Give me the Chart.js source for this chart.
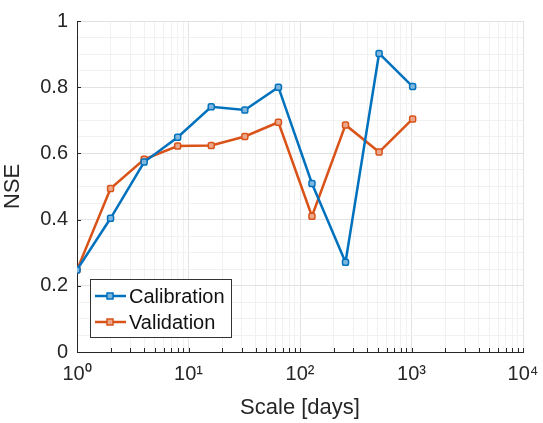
<!DOCTYPE html>
<html>
<head>
<meta charset="utf-8">
<script src="https://cdn.jsdelivr.net/npm/chart.js@4/dist/chart.umd.min.js"></script>
<style>
body { margin: 0; background: #fff; }
#wrap { width: 543px; height: 423px; }
</style>
</head>
<body>
<div id="wrap"><canvas id="nse"></canvas></div>
<script>
// scale in days (x) and NSE values
const scaleDays = [1, 2, 4, 8, 16, 32, 64, 128, 256, 512, 1024]
const calibration = [0.248, 0.404, 0.574, 0.649, 0.741, 0.731, 0.800, 0.509, 0.271, 0.902, 0.802]
const validation = [0.248, 0.494, 0.582, 0.622, 0.624, 0.651, 0.694, 0.410, 0.686, 0.604, 0.704]
const xDecades = [1, 10, 100, 1000, 10000]
const seriesNames = ['Calibration', 'Validation']
const seriesColors = ['#0072BD', '#D95319']

const sup = { '0': '\u2070', '1': '\u00B9', '2': '\u00B2', '3': '\u00B3', '4': '\u2074' }
const axisColor = '#262626'
const fontFam = '"Liberation Sans", Arial, sans-serif'

function toPoints(values) {
    return values.map((v, i) => ({ x: scaleDays[i], y: v }))
}

function isMajorY(v) {
    return Math.abs(v / 0.2 - Math.round(v / 0.2)) < 1e-6
}

// MATLAB style inward tick marks
const innerTicks = {
    id: 'innerTicks',
    afterDraw(chart) {
        const ctx = chart.ctx
        const xs = chart.scales.x, ys = chart.scales.y
        const area = chart.chartArea
        ctx.save()
        ctx.strokeStyle = axisColor
        ctx.lineWidth = 1
        ctx.beginPath()
        xs.ticks.forEach(t => {
            const px = Math.round(xs.getPixelForValue(t.value)) + 0.5
            ctx.moveTo(px, area.bottom)
            ctx.lineTo(px, area.bottom - 4)
        })
        ys.ticks.forEach(t => {
            if (!isMajorY(t.value)) return
            const py = Math.round(ys.getPixelForValue(t.value)) + 0.5
            ctx.moveTo(area.left, py)
            ctx.lineTo(area.left + 4, py)
        })
        ctx.stroke()
        ctx.restore()
    }
}

// legend box in lower-left corner of the axes
const insideLegend = {
    id: 'insideLegend',
    afterDraw(chart) {
        const ctx = chart.ctx
        const area = chart.chartArea
        const x0 = area.left + 13, y0 = area.bottom - 73
        const w = 141, h = 58
        ctx.save()
        ctx.fillStyle = '#fff'
        ctx.fillRect(x0, y0, w, h)
        ctx.strokeStyle = '#333'
        ctx.lineWidth = 1
        ctx.strokeRect(x0 + 0.5, y0 + 0.5, w, h)
        ctx.font = '20px ' + fontFam
        ctx.textBaseline = 'middle'
        chart.data.datasets.forEach((ds, i) => {
            const cy = y0 + 17 + i * 26
            ctx.strokeStyle = ds.borderColor
            ctx.lineWidth = 2.5
            ctx.beginPath()
            ctx.moveTo(x0 + 5, cy)
            ctx.lineTo(x0 + 36, cy)
            ctx.stroke()
            ctx.lineWidth = 1.5
            ctx.fillStyle = ds.pointBackgroundColor
            ctx.beginPath()
            ctx.rect(x0 + 17, cy - 3, 6, 6)
            ctx.fill()
            ctx.stroke()
            ctx.fillStyle = '#111'
            ctx.fillText(ds.label, x0 + 39, cy + 1)
        })
        ctx.restore()
    }
}

const datasets = [calibration, validation].map((vals, i) => ({
    label: seriesNames[i],
    data: toPoints(vals),
    borderColor: seriesColors[i],
    borderWidth: 2.5,
    pointStyle: 'rectRounded',
    pointRadius: 3.5,
    pointBorderWidth: 1.5,
    pointBorderColor: seriesColors[i],
    pointBackgroundColor: i == 0 ? '#7fb6de' : '#eca88b',
    tension: 0
}))

new Chart(document.getElementById('nse'), {
    type: 'line',
    data: { datasets: datasets },
    options: {
        responsive: true,
        maintainAspectRatio: false,
        animation: false,
        layout: { padding: { top: 20, right: 20, left: 0, bottom: 0 } },
        plugins: { legend: { display: false }, tooltip: { enabled: false } },
        scales: {
            x: {
                type: 'logarithmic',
                min: 1,
                max: 10000,
                afterBuildTicks: scale => {
                    const t = []
                    for (let d = 0; d < 4; d++) {
                        for (let m = 1; m < 10; m++) t.push({ value: m * Math.pow(10, d) })
                    }
                    t.push({ value: 10000 })
                    scale.ticks = t
                },
                afterFit: scale => { scale.height = 71 },
                ticks: {
                    autoSkip: false,
                    maxRotation: 0,
                    padding: 0,
                    color: axisColor,
                    font: { size: 20, family: fontFam },
                    callback: v => {
                        const k = xDecades.indexOf(v)
                        return k < 0 ? '' : '10' + sup[String(k)]
                    }
                },
                grid: {
                    drawTicks: true,
                    tickLength: 10,
                    tickColor: 'rgba(0,0,0,0)',
                    color: c => xDecades.includes(c.tick.value) ? '#e2e2e2' : '#f1f1f1'
                },
                border: { color: axisColor, width: 1 },
                title: {
                    display: true,
                    text: 'Scale [days]',
                    color: axisColor,
                    font: { size: 22, family: fontFam },
                    padding: { top: 0, bottom: 2 }
                }
            },
            y: {
                min: 0,
                max: 1,
                afterFit: scale => { scale.width = 77 },
                ticks: {
                    stepSize: 0.05,
                    autoSkip: false,
                    padding: 9,
                    color: axisColor,
                    font: { size: 20, family: fontFam },
                    callback: v => {
                        if (!isMajorY(v)) return ''
                        if (v == 0) return '0'
                        if (Math.abs(v - 1) < 1e-6) return '1'
                        return v.toFixed(1)
                    }
                },
                grid: {
                    drawTicks: false,
                    color: c => isMajorY(c.tick.value) ? '#e2e2e2' : '#f1f1f1'
                },
                border: { color: axisColor, width: 1 },
                title: {
                    display: true,
                    text: 'NSE',
                    color: axisColor,
                    font: { size: 22, family: fontFam },
                    padding: { top: 0, bottom: 9 }
                }
            }
        }
    },
    plugins: [innerTicks, insideLegend]
})
</script>
</body>
</html>
